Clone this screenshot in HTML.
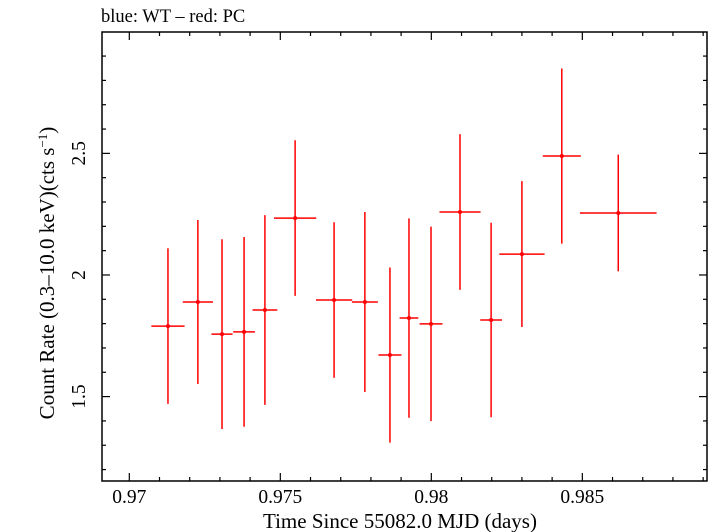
<!DOCTYPE html>
<html><head><meta charset="utf-8"><style>
body{margin:0;background:#fff}
svg{display:block;font-family:"Liberation Serif",serif}
</style></head><body>
<svg id="chart" width="709" height="532" viewBox="0 0 709 532">
<text x="101" y="22" font-size="18.5">blue: WT – red: PC</text>
<g id="axes"></g>
<g id="marks"></g>
<text x="400" y="528" font-size="21" text-anchor="middle">Time Since 55082.0 MJD (days)</text>
<text transform="translate(54,273) rotate(-90)" font-size="21" text-anchor="middle">Count Rate (0.3–10.0 keV)(cts s<tspan baseline-shift="super" font-size="13">−1</tspan>)</text>
</svg>
<script>
const times=[0.97128,0.97227,0.97307,0.97380,0.97449,0.97549,0.97678,0.97780,0.97863,0.97926,0.97999,0.98095,0.98198,0.98300,0.98432,0.98619];
const timeErr=[0.00055,0.0005,0.00035,0.00036,0.00041,0.0007,0.0006,0.00043,0.00038,0.00031,0.00038,0.00068,0.00036,0.00075,0.00063,0.00127];
const rates=[1.790,1.889,1.757,1.766,1.856,2.234,1.897,1.889,1.671,1.823,1.799,2.259,1.815,2.086,2.489,2.255];
const rateErr=[0.32,0.337,0.39,0.39,0.39,0.32,0.32,0.37,0.36,0.41,0.40,0.32,0.40,0.30,0.36,0.24];
const xTicks=[0.97,0.975,0.98,0.985];
const xTickLabels=["0.97","0.975","0.98","0.985"];
const yTicks=[1.5,2,2.5];
const yTickLabels=["1.5","2","2.5"];
const L=102,R=707,T=32,B=481;
const xMin=0.969096,xMax=0.989128,yMin=1.153,yMax=2.999;
const X=v=>L+(v-xMin)/(xMax-xMin)*(R-L);
const Y=v=>B-(v-yMin)/(yMax-yMin)*(B-T);
const NS="http://www.w3.org/2000/svg";
function mk(tag,attrs,parent){const e=document.createElementNS(NS,tag);for(const k in attrs)e.setAttribute(k,attrs[k]);parent.appendChild(e);return e;}
const axes=document.getElementById('axes'),marks=document.getElementById('marks');
const frame=mk('rect',{x:L,y:T,width:R-L,height:B-T,fill:'none',stroke:'#000','stroke-width':1.5},axes);


for(let i=0;i<=20;i++){const v=0.969+i*0.001;if(v<xMin||v>xMax)continue;const maj=Math.abs(v*200-Math.round(v*200))<1e-6;const len=maj?8:4;const x=X(v);
const t1=mk('line',{x1:x,x2:x,y1:B,y2:B-len,stroke:'#000','stroke-width':1.2},axes);


const t2=mk('line',{x1:x,x2:x,y1:T,y2:T+len,stroke:'#000','stroke-width':1.2},axes);

}
xTicks.forEach((v,i)=>{const t=mk('text',{x:X(v),y:B+22,'font-size':19.5,'text-anchor':'middle'},axes);t.textContent=xTickLabels[i];

});
for(let i=12;i<=29;i++){const v=i/10;const maj=i%5===0;const len=maj?8:4;const y=Y(v);
const t1=mk('line',{x1:L,x2:L+len,y1:y,y2:y,stroke:'#000','stroke-width':1.2},axes);


const t2=mk('line',{x1:R,x2:R-len,y1:y,y2:y,stroke:'#000','stroke-width':1.2},axes);

}
yTicks.forEach((v,i)=>{const t=mk('text',{transform:`translate(${L-17},${Y(v)}) rotate(-90)`,'font-size':19.5,'text-anchor':'middle'},axes);t.textContent=yTickLabels[i];

});
times.forEach((t,i)=>{const x=X(t),y=Y(rates[i]);
const h=mk('line',{x1:X(t-timeErr[i]),x2:X(t+timeErr[i]),y1:y,y2:y,stroke:'#f00','stroke-width':1.5},marks);


const v=mk('line',{x1:x,x2:x,y1:Y(rates[i]-rateErr[i]),y2:Y(rates[i]+rateErr[i]),stroke:'#f00','stroke-width':1.5},marks);


const c=mk('circle',{cx:x,cy:y,r:2,fill:'#f00'},marks);

});
</script>
</body></html>
